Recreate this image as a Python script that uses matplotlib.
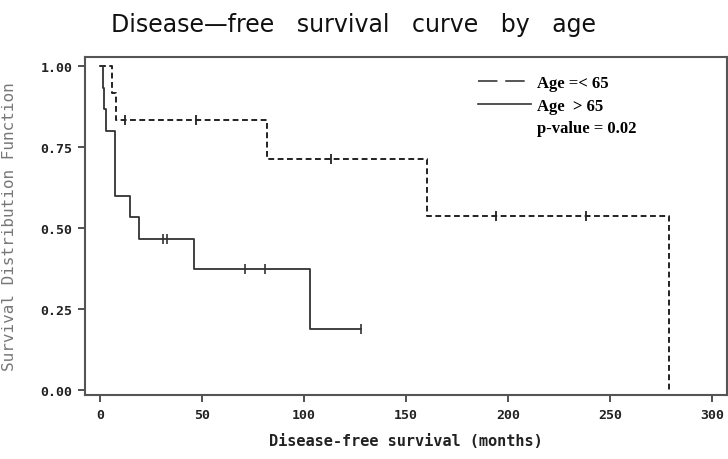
import numpy as np
import matplotlib
matplotlib.use('Agg')
from matplotlib import pyplot as plt
from matplotlib.lines import Line2D

# Kaplan-Meier steps (months, survival)
young_times = [0, 6, 8, 82, 160, 279]
young_surv = [1.0, 0.917, 0.833, 0.714, 0.536, 0.0]
young_censor = [12, 47, 113, 194, 238]

old_times = [0, 1.5, 2, 3, 7.5, 14.5, 19, 46, 103, 128]
old_surv = [1.0, 0.933, 0.867, 0.8, 0.6, 0.533, 0.467, 0.373, 0.187, 0.187]
old_censor = [31, 33, 71, 81, 128]

x_ticks = [0, 50, 100, 150, 200, 250, 300]
y_ticks = [0.0, 0.25, 0.5, 0.75, 1.0]


def surv_at(times, surv, t):
    # level of the step function at time t
    idx = np.searchsorted(times, t, side='right') - 1
    return np.asarray(surv)[idx]


fig = plt.figure(figsize=(7.28, 4.6), dpi=100)
ax = fig.add_axes([0.117, 0.139, 0.881, 0.735])

ax.step(young_times, young_surv, where='post', color='#222222', lw=1.4,
        linestyle=(0, (3, 1.8)))
ax.step(old_times, old_surv, where='post', color='#333333', lw=1.3)

ax.plot(young_censor, surv_at(young_times, young_surv, young_censor), '|',
        color='#222222', ms=7, mew=1.3)
ax.plot(old_censor, surv_at(old_times, old_surv, old_censor), '|',
        color='#333333', ms=7, mew=1.2)

ax.set_xlim(-7.3, 307)
ax.set_ylim(-0.0154, 1.028)
ax.set_xticks(x_ticks)
ax.set_yticks(y_ticks)
ax.set_yticklabels(['%.2f' % v for v in y_ticks])

mono = 'DejaVu Sans Mono'
for lab in ax.get_xticklabels() + ax.get_yticklabels():
    lab.set_family(mono)
    lab.set_weight('bold')
    lab.set_fontsize(9.5)
    lab.set_color('#222222')
ax.tick_params(direction='out', length=5, width=1.2, color='#333333', pad=4)

for sp in ax.spines.values():
    sp.set_color('#555555')
    sp.set_linewidth(1.5)

ax.set_xlabel('Disease-free survival (months)', family=mono, weight='bold',
              fontsize=11, color='#222222', labelpad=9)
ax.set_ylabel('Survival Distribution Function', family=mono, fontsize=11.5,
              color='#777777')
ax.yaxis.set_label_coords(-0.106, 0.5)

fig.text(0.485, 0.945, 'Disease\u2014free   survival   curve   by   age',
         ha='center', va='center', fontsize=17, family='DejaVu Sans',
         color='#111111')

handles = [Line2D([], [], color='#555555', lw=1.4, linestyle=(0, (10, 4))),
           Line2D([], [], color='#333333', lw=1.2),
           Line2D([], [], color='none')]
labels = ['Age =< 65', 'Age  > 65', 'p-value = 0.02']
ax.legend(handles, labels, loc='upper left', bbox_to_anchor=(0.612, 0.946),
          frameon=False, borderpad=0, borderaxespad=0, handlelength=3.2,
          handletextpad=0.35, labelspacing=0.38,
          prop={'family': 'Liberation Serif', 'weight': 'bold', 'size': 12})

fig.savefig('out.png', dpi=100)
